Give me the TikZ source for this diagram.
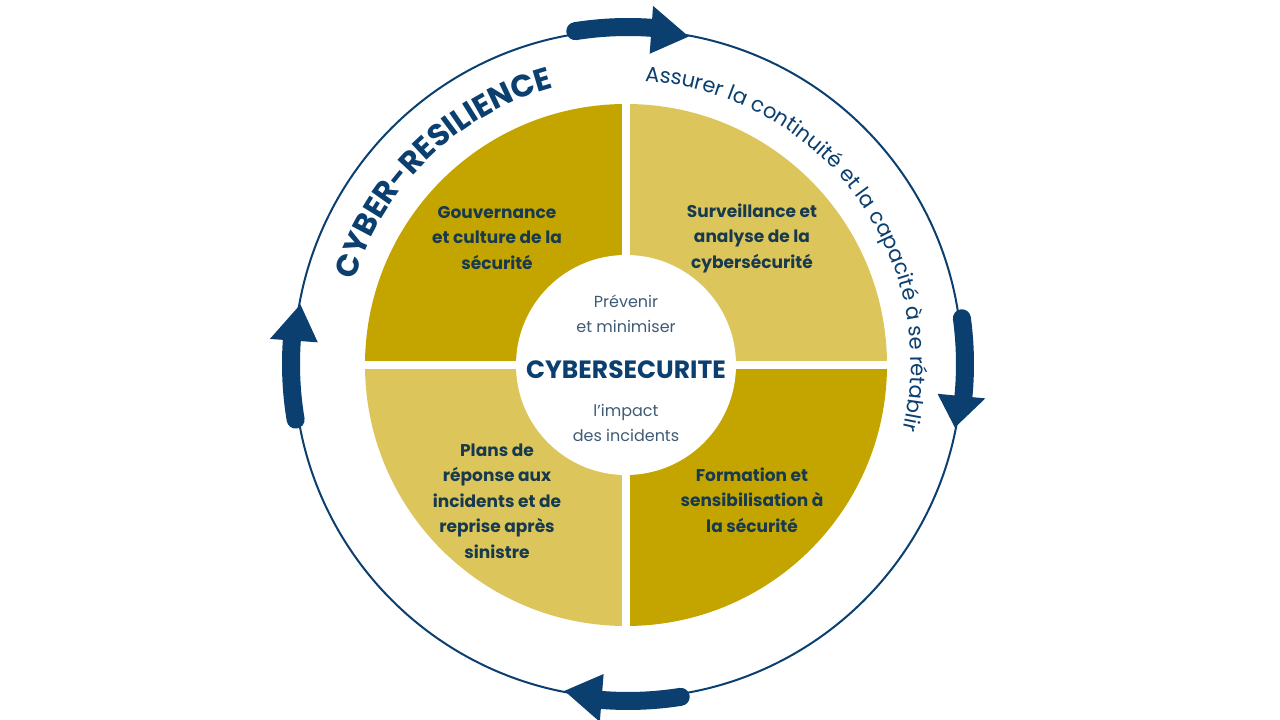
\documentclass[tikz,border=0pt]{standalone}
\usepackage{fontspec}
\setmainfont{Poppins}
\usetikzlibrary{decorations.text}
\definecolor{navy}{HTML}{0B3F70}
\definecolor{goldD}{HTML}{C4A500}
\definecolor{goldL}{HTML}{DCC65C}
\definecolor{qtext}{HTML}{173A4E}
\definecolor{ltext}{HTML}{3F5B74}
\newcommand\cyarrow[3]{%
  \draw[navy, line width=18, line cap=round] (#1:337) arc[start angle=#1, end angle=#2-1, radius=337];
  \fill[navy] (#2:311) -- (#2:359) -- (#3:333) -- cycle;}
\begin{document}
\begin{tikzpicture}[x=1pt,y=1pt,
  qlabel/.style={font=\fontsize{17}{25.5}\selectfont\bfseries, text=qtext, align=center},
  lightlabel/.style={font=\fontsize{16}{25.5}\selectfont, text=ltext, align=center},
  biglabel/.style={font=\fontsize{25}{28}\selectfont\bfseries, text=navy}]
\useasboundingbox (0,0) rectangle (1280,720);
\fill[white] (0,0) rectangle (1280,720);
\begin{scope}[shift={(626,355)}]
  % quadrants
  \fill[goldD] (0,0) -- (180:261) arc[start angle=180,end angle=90,radius=261] -- cycle;
  \fill[goldL] (0,0) -- (90:261) arc[start angle=90,end angle=0,radius=261] -- cycle;
  \fill[goldD] (0,0) -- (0:261) arc[start angle=0,end angle=-90,radius=261] -- cycle;
  \fill[goldL] (0,0) -- (-90:261) arc[start angle=-90,end angle=-180,radius=261] -- cycle;
  \draw[white, line width=8] (-270,0) -- (270,0) (0,-270) -- (0,270);
  \fill[white] (0,0) circle (110);
  % quadrant labels
  \node[qlabel] (gov) at (-129,127) {Gouvernance\\et culture de la\\sécurité};
  \node[qlabel] (surv) at (126,127) {Surveillance et\\analyse de la\\cybersécurité};
  \node[qlabel] (plans) at (-129,-136) {Plans de\\réponse aux\\incidents et de\\reprise après\\sinistre};
  \node[qlabel] (form) at (126,-135) {Formation et\\sensibilisation à\\la sécurité};
  % centre
  \node[lightlabel] (prev) at (0,51) {Prévenir\\et minimiser};
  \node[biglabel] (cyber) at (0,-5) {CYBERSECURITE};
  \node[lightlabel] (impact) at (0,-58) {l’impact\\des incidents};
  \begin{scope}[shift={(2,1)}]
    \draw[navy, line width=2] (0,0) circle (334);
    \cyarrow{99}{86}{79.5}
    \cyarrow{7.8}{-5.5}{-11}
    \cyarrow{-81}{-94.5}{-101}
    \cyarrow{189.5}{176}{169.7}
    \path[decorate, decoration={text along path, text align=center, text color=navy,
      text={|\fontsize{31}{31}\selectfont\bfseries|CYBER-RESILIENCE}}]
      (170:286) arc[start angle=170, end angle=98, radius=286];
    \path[decorate, decoration={text along path, text align=center, text color=navy,
      text={|\fontsize{21}{21}\selectfont|Assurer la continuité et la capacité à se rétablir}}]
      (95:283) arc[start angle=95, end angle=-22, radius=283];
  \end{scope}
\end{scope}
\end{tikzpicture}
\end{document}
